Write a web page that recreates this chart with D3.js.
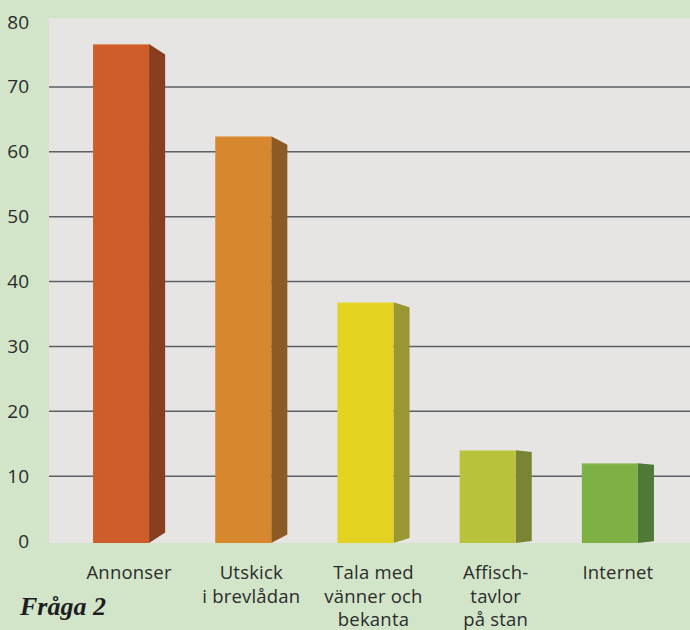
<!DOCTYPE html>
<html>
<head>
<meta charset="utf-8">
<script src="https://cdn.jsdelivr.net/npm/d3@7"></script>
<style>
  html, body { margin: 0; padding: 0; background: #d2e5c8; }
  svg text { font-family: "Open Sans", Lato, sans-serif; fill: #2a2c2c; }
</style>
</head>
<body>
<div id="viz"></div>
<script>
// data
var categories = ["Annonser", "Utskick\ni brevlådan", "Tala med\nvänner och\nbekanta", "Affisch-\ntavlor\npå stan", "Internet"];
var values = [76.6, 62.4, 36.8, 14.0, 12.0];
var frontColours = ["#cf5d2c", "#d7872d", "#e3d220", "#b8c23a", "#7db143"];
var sideColours = ["#873f20", "#8c5a25", "#9a9631", "#798533", "#4f7937"];
var yTicks = [0, 10, 20, 30, 40, 50, 60, 70, 80];

var w = 690, h = 630;
var plotLeft = 49, plotTop = 18, plotBottom = 543;

var svg = d3.select("#viz")
	.append("svg")
	.attr("width", w)
	.attr("height", h);

svg.append("rect")
	.attr("width", w)
	.attr("height", h)
	.style("fill", "#d2e5c8");

var y = d3.scaleLinear()
	.domain([0, 80])
	.range([541, 22]);

var x = d3.scaleBand()
	.domain(categories)
	.range([68, 679])
	.paddingInner(0.41)
	.paddingOuter(0.205);

var frontW = 56;
var sideW = x.bandwidth() - frontW;

// plot area
svg.append("rect")
	.attr("x", plotLeft)
	.attr("y", plotTop)
	.attr("width", w - plotLeft)
	.attr("height", plotBottom - plotTop)
	.style("fill", "#e6e5e3");

// gridlines
svg.append("g")
	.selectAll("line")
	.data(yTicks.filter(function(d){ return d > 0 && d < 80; }))
	.enter().append("line")
		.attr("x1", plotLeft)
		.attr("x2", w)
		.attr("y1", function(d){ return y(d); })
		.attr("y2", function(d){ return y(d); })
		.style("stroke", "#5d6166")
		.style("stroke-width", 1.5);

// y axis labels
var yAxis = d3.axisLeft(y).tickValues(yTicks).tickSize(0).tickPadding(0);
var gy = svg.append("g")
	.attr("transform", "translate(29,0)")
	.call(yAxis);
gy.select(".domain").remove();
gy.selectAll("text")
	.style("font-size", "19px")
	.style("font-family", "'Open Sans', sans-serif")
	.attr("fill", "#2a2c2c");

// bars
var bars = svg.append("g")
	.selectAll("g")
	.data(categories)
	.enter().append("g");

bars.append("path")
	.style("fill", function(d, i){ return sideColours[i]; })
	.attr("d", function(d, i){
		var x0 = x(d) + frontW, x1 = x0 + sideW;
		var top = y(values[i]), bot = y(0) + 2;
		var k = (bot - top) * 0.021;
		return "M" + x0 + "," + top + "L" + x1 + "," + (top + k) +
			"L" + x1 + "," + (bot - k) + "L" + x0 + "," + bot + "Z";
	});

bars.append("rect")
	.attr("x", function(d){ return x(d); })
	.attr("y", function(d, i){ return y(values[i]); })
	.attr("width", frontW)
	.attr("height", function(d, i){ return y(0) + 2 - y(values[i]); })
	.style("fill", function(d, i){ return frontColours[i]; });

// front top highlight
bars.append("line")
	.attr("x1", function(d){ return x(d); })
	.attr("x2", function(d){ return x(d) + frontW; })
	.attr("y1", function(d, i){ return y(values[i]) + 0.5; })
	.attr("y2", function(d, i){ return y(values[i]) + 0.5; })
	.style("stroke", "#ffffff")
	.style("stroke-opacity", 0.3);

// category labels
var labels = svg.append("g")
	.selectAll("text")
	.data(categories)
	.enter().append("text")
		.attr("text-anchor", "middle")
		.attr("x", function(d){ return x(d) + x.bandwidth() / 2; })
		.attr("y", 579)
		.style("font-size", "18.5px")
		.style("letter-spacing", "0.2px");

labels.selectAll("tspan")
	.data(function(d){ return d.split("\n"); })
	.enter().append("tspan")
		.attr("x", function(){ return d3.select(this.parentNode).attr("x"); })
		.attr("dy", function(d, i){ return i === 0 ? 0 : 23.5; })
		.text(function(d){ return d; });

// title
svg.append("text")
	.attr("x", 20)
	.attr("y", 615)
	.style("font-family", "'Liberation Serif', 'DejaVu Serif', serif")
	.style("font-weight", "bold")
	.style("font-style", "italic")
	.style("font-size", "26px")
	.style("fill", "#1e1e1e")
	.text("Fråga 2");
</script>
</body>
</html>
